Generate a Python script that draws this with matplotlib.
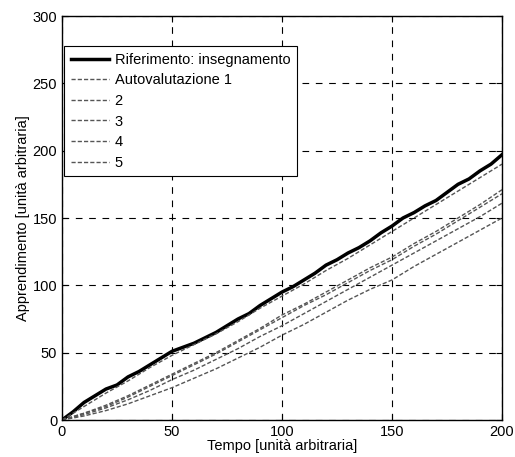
import matplotlib.pyplot as plt
import numpy as np

plt.rcParams['font.family'] = ['Liberation Sans', 'DejaVu Sans']
plt.rcParams['font.size'] = 10

# dati
tempo_rif = [0, 5, 10, 15, 20, 25, 30, 35, 40, 45, 50, 55, 60, 65, 70, 75, 80,
             85, 90, 95, 100, 105, 110, 115, 120, 125, 130, 135, 140, 145, 150,
             155, 160, 165, 170, 175, 180, 185, 190, 195, 200]
riferimento = [0, 6, 13, 18, 23, 26, 32, 36, 41, 46, 51, 54, 57, 61, 65, 70, 75,
               79, 85, 90, 95, 99, 104, 109, 115, 119, 124, 128, 133, 139, 144,
               150, 154, 159, 163, 169, 175, 179, 185, 190, 197]
tempo = [0, 10, 20, 30, 40, 50, 60, 70, 80, 90, 100,
         110, 120, 130, 140, 150, 160, 170, 180, 190, 200]
auto1 = [0, 10, 20, 29, 39, 48, 56, 64, 73, 83, 92,
         101, 111, 120, 130, 140, 150, 160, 170, 180, 190]
auto2 = [0, 5, 11, 18, 26, 34, 42, 50, 59, 68, 78,
         86, 95, 104, 113, 121, 131, 140, 150, 160, 171]
auto3 = [0, 5, 10, 17, 25, 33, 41, 49, 58, 67, 76,
         85, 93, 102, 111, 119, 129, 138, 148, 158, 168]
auto4 = [0, 4, 9, 15, 22, 30, 37, 45, 53, 62, 70,
         79, 88, 97, 106, 115, 124, 133, 142, 151, 161]
auto5 = [0, 3, 7, 12, 18, 24, 31, 38, 46, 54, 63,
         71, 80, 89, 97, 104, 114, 123, 132, 141, 150]
etichette = ['Riferimento: insegnamento', 'Autovalutazione 1', '2', '3', '4', '5']

fig = plt.figure(figsize=(5.15, 4.57), dpi=100)
ax = fig.add_axes([62/515, 1-420/457, 440/515, 404/457])

ax.plot(tempo_rif, riferimento, color='black', linewidth=2.5, label=etichette[0])
for serie, lab in zip([auto1, auto2, auto3, auto4, auto5], etichette[1:]):
    ax.plot(tempo, serie, color='#555555', linestyle=(0, (3, 1.5)),
            linewidth=1.0, label=lab)

ax.set_xlim(0, 200)
ax.set_ylim(0, 300)
ax.set_xticks(np.arange(0, 201, 50))
ax.set_yticks(np.arange(0, 301, 50))
ax.grid(True, color='black', linestyle=(0, (6, 6)), linewidth=0.8)
ax.tick_params(direction='in', top=True, right=True, length=4, labelsize=10.5)
for s in ax.spines.values():
    s.set_linewidth(1.0)

ax.set_xlabel('Tempo [unità arbitraria]', labelpad=0, fontsize=10.5)
ax.set_ylabel('Apprendimento [unità arbitraria]', labelpad=2, fontsize=10.5)

leg = ax.legend(loc='upper left', bbox_to_anchor=(0.005, 0.925), borderaxespad=0,
                fancybox=False, framealpha=1, edgecolor='black', handlelength=2.6,
                borderpad=0.45, labelspacing=0.45, handletextpad=0.4, fontsize=10.5)
leg.get_frame().set_linewidth(0.8)

fig.savefig('out.png', dpi=100)
